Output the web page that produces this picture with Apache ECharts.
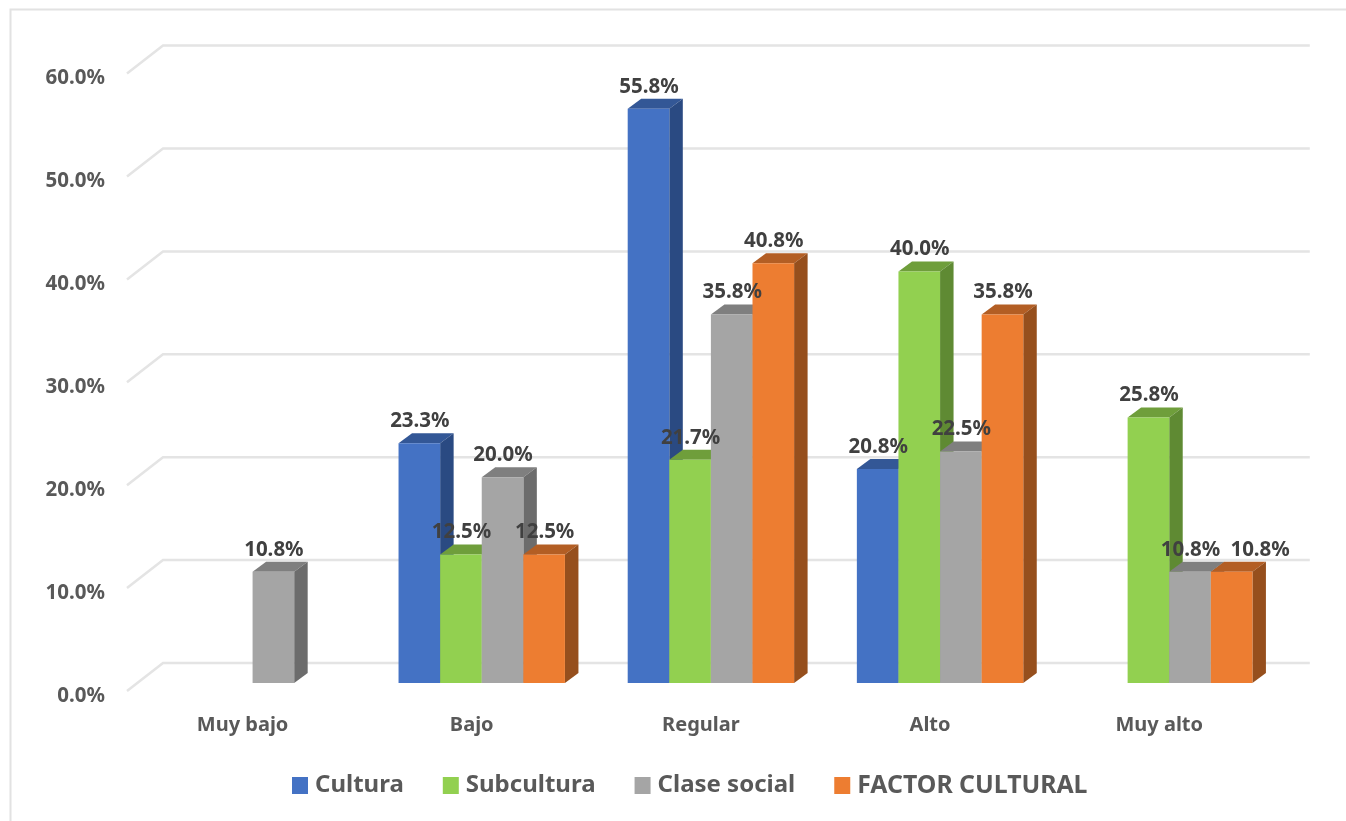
<!DOCTYPE html>
<html lang="es">
<head>
<meta charset="utf-8">
<title>Factor cultural</title>
<script src="https://cdn.jsdelivr.net/npm/echarts@6/dist/echarts.min.js"></script>
<style>
  html, body { margin: 0; padding: 0; background: #fff; }
  #chart { width: 1346px; height: 821px; }
</style>
</head>
<body>
<div id="chart"></div>
<script>
// Niveles de la escala y porcentajes por dimensión (null = sin barra)
const categories = ['Muy bajo', 'Bajo', 'Regular', 'Alto', 'Muy alto'];
const cultura    = [null, 23.3, 55.8, 20.8, null];
const subcultura = [null, 12.5, 21.7, 40.0, 25.8];
const claseSocial = [10.8, 20.0, 35.8, 22.5, 10.8];
const factorCultural = [null, 12.5, 40.8, 35.8, 10.8];
const gridTicks = [0, 10, 20, 30, 40, 50, 60];

const seriesNames = ['Cultura', 'Subcultura', 'Clase social', 'FACTOR CULTURAL'];
const seriesValues = [cultura, subcultura, claseSocial, factorCultural];
const frontColors = ['#4472C4', '#92D050', '#A5A5A5', '#ED7D31'];
const sideColors  = ['#2A4A82', '#5F8A33', '#6C6C6C', '#964F1D'];
const topColors   = ['#335796', '#6F9E3B', '#7F7F7F', '#B35E24'];

const FONT = '"Noto Sans", sans-serif';
const BAR_W = 41.6;          // ancho de la cara frontal
const DEPTH_X = 13.5;        // fuga de la profundidad de cada barra
const DEPTH_Y = -10;

// La etiqueta naranja de "Muy alto" se aparta para no pisar a la gris
function labelShift(seriesIndex, categoryIndex) {
  return seriesIndex === 3 && categoryIndex === 4 ? 28 : 0;
}

// Prisma de una barra: cara superior, lateral y frontal más su etiqueta
function renderBar(seriesIndex) {
  return function (params, api) {
    const base = api.coord([api.value(0), 0]);
    const top = api.coord([api.value(0), api.value(1)]);
    const x0 = base[0] + (seriesIndex - 2) * BAR_W;
    const x1 = x0 + BAR_W;
    const y0 = top[1];
    const y1 = base[1];
    return {
      type: 'group',
      children: [
        { type: 'polygon', shape: { points: [[x0, y0], [x0 + DEPTH_X, y0 + DEPTH_Y], [x1 + DEPTH_X, y0 + DEPTH_Y], [x1, y0]] },
          style: { fill: topColors[seriesIndex] } },
        { type: 'polygon', shape: { points: [[x1, y0], [x1 + DEPTH_X, y0 + DEPTH_Y], [x1 + DEPTH_X, y1 + DEPTH_Y], [x1, y1]] },
          style: { fill: sideColors[seriesIndex] } },
        { type: 'rect', shape: { x: x0, y: y0, width: BAR_W, height: y1 - y0 },
          style: { fill: frontColors[seriesIndex] } },
        { type: 'text', z2: 100,
          style: { x: (x0 + x1) / 2 + 0.5 + labelShift(seriesIndex, api.value(0)), y: y0 - 22,
            text: api.value(1).toFixed(1) + '%',
            align: 'center', verticalAlign: 'middle',
            font: 'bold 20.5px ' + FONT, fill: '#404040' } }
      ]
    };
  };
}

// Líneas de la pared del fondo con su tramo sobre el suelo
function renderGridLine(params, api) {
  const left = api.coord([0, api.value(0)]);
  const right = api.coord([categories.length - 1, api.value(0)]);
  const size = api.size([1, 0]);
  const xStart = left[0] - size[0] / 2;
  const xEnd = right[0] + size[0] / 2;
  const y = left[1];
  return {
    type: 'polyline',
    shape: { points: [[xStart - 11, y + 8], [xStart + 25, y - 20], [xEnd + 26, y - 20]] },
    style: { stroke: '#E4E4E4', lineWidth: 2.5, fill: null }
  };
}

const chart = echarts.init(document.getElementById('chart'), null, { renderer: 'canvas' });

chart.setOption({
  animation: false,
  backgroundColor: '#ffffff',
  graphic: [{
    type: 'polyline', silent: true,
    shape: { points: [[10.5, 821], [10.5, 9.5], [1346, 9.5]] },
    style: { stroke: '#E2E2E2', lineWidth: 2, fill: null }
  }],
  grid: { left: 138, width: 1145.8, top: 65.6, height: 617.4 },
  xAxis: {
    type: 'category',
    data: categories,
    axisLine: { show: false },
    axisTick: { show: false },
    axisLabel: {
      margin: 32, padding: [0, 20, 0, 0],
      fontFamily: FONT, fontWeight: 'bold', fontSize: 20, color: '#595959'
    }
  },
  yAxis: {
    type: 'value', min: 0, max: 60, interval: 10,
    axisLine: { show: false },
    axisTick: { show: false },
    splitLine: { show: false },
    axisLabel: {
      margin: 33, verticalAlign: 'top', lineHeight: 26,
      fontFamily: FONT, fontWeight: 'bold', fontSize: 20.5, color: '#595959',
      formatter: v => v.toFixed(1) + '%'
    }
  },
  legend: {
    left: 287, top: 768,
    data: seriesNames,
    icon: 'rect',
    itemWidth: 16, itemHeight: 17, itemGap: 39,
    formatter: name => name === name.toUpperCase() ? '{caps|' + name + '}' : name,
    textStyle: {
      fontFamily: FONT, fontWeight: 'bold', fontSize: 24, color: '#595959', padding: [0, 0, 0, 2],
      rich: { caps: { fontFamily: FONT, fontWeight: 'bold', fontSize: 24.8, color: '#595959' } }
    }
  },
  series: [
    {
      type: 'custom', silent: true, legendHoverLink: false,
      renderItem: renderGridLine,
      data: gridTicks.map(v => [v]),
      encode: { y: 0 }
    }
  ].concat(seriesNames.map((name, s) => ({
    type: 'custom',
    name,
    silent: true,
    itemStyle: { color: frontColors[s] },
    renderItem: renderBar(s),
    encode: { x: 0, y: 1 },
    data: seriesValues[s].map((v, i) => [i, v]).filter(d => d[1] !== null)
  })))
});
</script>
</body>
</html>
